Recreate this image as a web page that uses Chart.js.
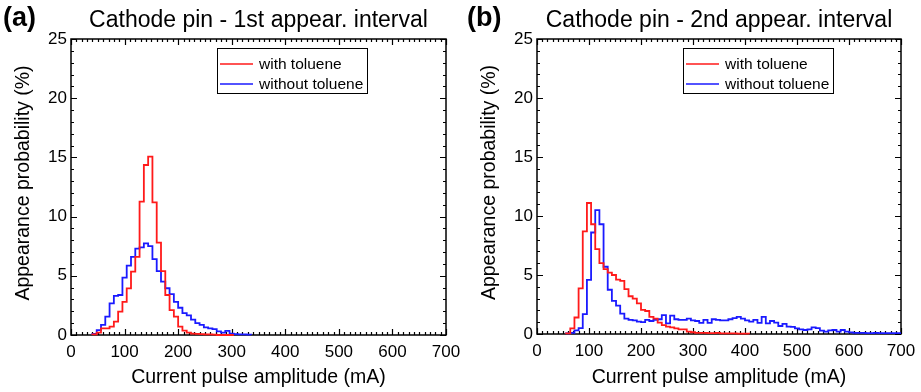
<!DOCTYPE html>
<html>
<head>
<meta charset="utf-8">
<script src="https://cdn.jsdelivr.net/npm/chart.js@4.4.1/dist/chart.umd.min.js"></script>
<style>
  body { margin: 0; background: #fff; }
  #wrap { position: relative; width: 921px; height: 392px; }
  canvas { position: absolute; top: 0; }
</style>
</head>
<body>
<div id="wrap">
  <canvas id="chartA" width="460" height="392" style="left:0"></canvas>
  <canvas id="chartB" width="461" height="392" style="left:460px"></canvas>
</div>
<script>
// histogram bins, 8 mA wide, values in %
const binWidth = 8;
const xTicks = [0, 100, 200, 300, 400, 500, 600, 700];
const yTicks = [0, 5, 10, 15, 20, 25];
const seriesNames = ['with toluene', 'without toluene'];

// (a) 1st appearance interval
const aRedStart = 40;
const aRed = [0.05, 0.2, 0.56, 0.56, 0.7, 1.13, 1.97, 2.8, 3.94, 5.35, 6.6, 11.26, 14.36, 15.06,
  11.2, 7.8, 5.4, 3.38, 2.1, 1.55, 0.7, 0.37, 0.2, 0.12, 0.1, 0.08, 0.05, 0.05, 0.03, 0, 0, 0, 0];
const aBlueStart = 40;
const aBlue = [0.1, 0.42, 0.85, 1.55, 2.67, 3.3, 3.38, 4.84, 5.86, 6.6, 7.3, 7.4, 7.74, 7.5, 6.4,
  5.4, 4.5, 3.95, 3.46, 2.8, 2.3, 1.85, 1.65, 1.3, 1.0, 0.85, 0.65, 0.56, 0.5, 0.3, 0.2, 0.35,
  0.12, 0.08, 0.05, 0.05, 0.03];

// (b) 2nd appearance interval
const bRedStart = 56;
const bRed = [0.05, 0.48, 1.4, 3.87, 8.7, 11.1, 9.3, 7.2, 6.0, 5.5, 5.2, 5.0, 4.6, 4.5, 3.8, 3.2,
  3.0, 2.6, 2.05, 1.95, 1.45, 1.3, 0.96, 0.76, 0.62, 0.56, 0.48, 0.4, 0.4, 0.2, 0.15, 0.1, 0.1,
  0.1, 0.08, 0.08, 0.1, 0.05, 0.05, 0.05, 0.05, 0.03, 0.03, 0.03];
const bBlueStart = 56;
const bBlue = [0.05, 0.1, 0.3, 0.5, 1.68, 4.58, 8.6, 10.5, 9.3, 5.7, 3.75, 2.8, 2.4, 1.72, 1.3,
  1.2, 1.15, 1.05, 1.0, 1.2, 1.1, 1.2, 1.25, 1.6, 0.9, 1.55, 1.25, 1.2, 1.2, 1.3, 1.15, 1.1,
  0.95, 1.2, 0.95, 1.25, 1.2, 1.15, 1.15, 1.25, 1.35, 1.45, 1.3, 1.15, 1.05, 1.2, 0.95, 1.45,
  0.9, 1.1, 0.96, 0.68, 0.85, 0.62, 0.6, 0.48, 0.4, 0.34, 0.4, 0.56, 0.5, 0.28, 0.2, 0.3, 0.34,
  0.2, 0.34, 0.2, 0.14, 0.1, 0.1, 0.1, 0.08, 0.08, 0.1, 0.08, 0.08, 0.08, 0.08, 0.08, 0.08];

const FONT = '"Liberation Sans", Arial, Helvetica, sans-serif';
Chart.defaults.color = '#000';
Chart.defaults.font.family = FONT;

function toSteps(start, vals) {
  const pts = [{x: start, y: 0}];
  vals.forEach((v, i) => pts.push({x: start + i * binWidth, y: v}));
  pts.push({x: Math.min(start + vals.length * binWidth, 700), y: 0});
  return pts;
}

// frame + inward ticks on all four sides
const frame = {
  id: 'frame',
  beforeDatasetsDraw(chart) {
    const {ctx, chartArea: ca, scales: {x, y}} = chart;
    ctx.save();
    ctx.strokeStyle = '#000';
    ctx.lineWidth = 1.5;
    ctx.strokeRect(ca.left, ca.top, ca.right - ca.left, ca.bottom - ca.top);
    ctx.lineWidth = 1.2;
    ctx.beginPath();
    for (let v = 0; v <= 700; v += 10) {
      const px = Math.round(x.getPixelForValue(v)) + 0.5;
      const len = v % 100 === 0 ? 6 : 3;
      ctx.moveTo(px, ca.bottom); ctx.lineTo(px, ca.bottom - len);
      ctx.moveTo(px, ca.top); ctx.lineTo(px, ca.top + len);
    }
    for (let v = 0; v <= 25; v += 1) {
      const py = Math.round(y.getPixelForValue(v)) + 0.5;
      const len = v % 5 === 0 ? 6 : 3;
      ctx.moveTo(ca.left, py); ctx.lineTo(ca.left + len, py);
      ctx.moveTo(ca.right, py); ctx.lineTo(ca.right - len, py);
    }
    ctx.stroke();
    ctx.restore();
  },
  afterDraw(chart, args, o) {
    const {ctx, chartArea: ca} = chart;
    const cx = (ca.left + ca.right) / 2;
    ctx.save();
    ctx.fillStyle = '#000';
    // panel letter and title
    ctx.textBaseline = 'alphabetic';
    ctx.textAlign = 'left';
    ctx.font = 'bold 27px ' + FONT;
    ctx.fillText(o.letter, o.letterX, 26);
    ctx.textAlign = 'center';
    ctx.font = '23px ' + FONT;
    ctx.fillText(o.title, cx, 27);
    // axis titles
    ctx.font = '19.5px ' + FONT;
    ctx.textBaseline = 'middle';
    ctx.fillText('Current pulse amplitude (mA)', cx, 378);
    ctx.save();
    ctx.translate(o.yTitleX, (ca.top + ca.bottom) / 2 - 4);
    ctx.rotate(-Math.PI / 2);
    ctx.fillText('Appearance probability (%)', 0, 0);
    ctx.restore();
    // legend box
    const bx = ca.left + 146, by = ca.top + 9;
    ctx.lineWidth = 1;
    ctx.strokeStyle = '#000';
    ctx.strokeRect(bx + 0.5, by + 0.5, 150, 45);
    ctx.font = '15.5px ' + FONT;
    ctx.textAlign = 'left';
    chart.data.datasets.forEach((ds, i) => {
      const ly = by + 16 + i * 20;
      ctx.strokeStyle = ds.borderColor;
      ctx.lineWidth = 1.6;
      ctx.beginPath();
      ctx.moveTo(bx + 3, ly); ctx.lineTo(bx + 36, ly);
      ctx.stroke();
      ctx.fillText(ds.label, bx + 42, ly + 1);
    });
    ctx.restore();
  }
};

function makePanel(id, red, blue, deco, yW, xH, rightPad) {
  return new Chart(document.getElementById(id), {
    type: 'line',
    data: {
      datasets: [
        {label: seriesNames[0], data: red, borderColor: '#ff1a1a', borderWidth: 1.8,
         pointRadius: 0, stepped: 'before', fill: false, clip: {left: 2, top: 2, right: 0, bottom: 3}},
        {label: seriesNames[1], data: blue, borderColor: '#1a1aff', borderWidth: 1.8,
         pointRadius: 0, stepped: 'before', fill: false, clip: {left: 2, top: 2, right: 0, bottom: 3}}
      ]
    },
    options: {
      responsive: false,
      animation: false,
      events: [],
      layout: {padding: {top: 39, right: rightPad, left: 0, bottom: 0}},
      plugins: {legend: {display: false}, tooltip: {enabled: false}, frame: deco},
      scales: {
        x: {
          type: 'linear', min: 0, max: 700,
          afterBuildTicks: s => { s.ticks = xTicks.map(v => ({value: v})); },
          ticks: {maxRotation: 0, autoSkip: false, padding: 7, font: {size: 17}},
          grid: {display: false, drawTicks: false}, border: {display: false},
          afterFit: s => { s.height = xH; s.paddingLeft = 0; s.paddingRight = 0; }
        },
        y: {
          type: 'linear', min: 0, max: 25,
          afterBuildTicks: s => { s.ticks = yTicks.map(v => ({value: v})); },
          ticks: {padding: 4, font: {size: 17}},
          grid: {display: false, drawTicks: false}, border: {display: false},
          afterFit: s => { s.width = yW; s.paddingTop = 0; s.paddingBottom = 0; }
        }
      }
    },
    plugins: [frame]
  });
}

makePanel('chartA', toSteps(aRedStart, aRed), toSteps(aBlueStart, aBlue),
  {letter: '(a)', letterX: 3, title: 'Cathode pin - 1st appear. interval', yTitleX: 24},
  71, 57, 14);
makePanel('chartB', toSteps(bRedStart, bRed), toSteps(bBlueStart, bBlue),
  {letter: '(b)', letterX: 7, title: 'Cathode pin - 2nd appear. interval', yTitleX: 30},
  77, 58, 20);
</script>
</body>
</html>
